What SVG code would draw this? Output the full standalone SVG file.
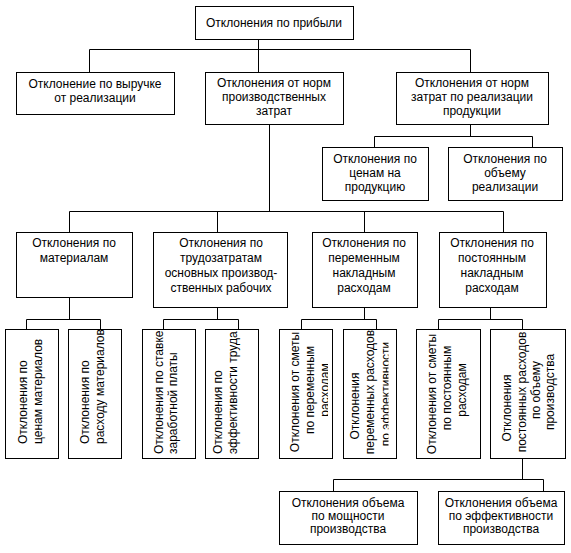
<svg xmlns="http://www.w3.org/2000/svg" width="571" height="553" viewBox="0 0 571 553">
<style>
.b{fill:#fff;stroke:#000;stroke-width:1}
.c{fill:none;stroke:#000;stroke-width:1}
text{font-family:"Liberation Sans",Arial,sans-serif;font-size:12px;fill:#000}
.m{text-anchor:middle}
.s{text-anchor:start}
</style>
<defs>
<clipPath id="clipC1"><rect x="279" y="329" width="49" height="129"/></clipPath>
<clipPath id="clipC2"><rect x="343" y="329" width="45.5" height="129"/></clipPath>
</defs>
<rect width="571" height="553" fill="#fff"/>
<g id="connectors">
<path class="c" d="M258.5 39V72M89.5 72V49.5H470.5V72"/>
<path class="c" d="M470.5 124V136.5M374.5 147V136.5H532.5V147"/>
<path class="c" d="M269.5 124V211.5M69.5 232V211.5H503.5V232M217.5 211.5V232M364.5 211.5V232"/>
<path class="c" d="M69.5 297V319.5M26.5 329V319.5H100.5V329"/>
<path class="c" d="M217.5 307V319.5M163.5 329V319.5H238.5V329"/>
<path class="c" d="M364.5 307V319.5M301.5 329V319.5H376.5V329"/>
<path class="c" d="M490.5 307V319.5M438.5 329V319.5H522.5V329"/>
<path class="c" d="M522.5 458V479.5M333.5 491V479.5H543.5V491"/>
</g>
<g id="n-top"><rect class="b" x="195.5" y="6.5" width="158" height="33"/><text class="m" x="274" y="27">Отклонения по прибыли</text></g>
<g id="n-revenue"><rect class="b" x="16.5" y="72.5" width="158" height="42"/><text class="m" x="95" y="88">Отклонение по выручке</text><text class="m" x="95" y="102">от реализации</text></g>
<g id="n-prodcost"><rect class="b" x="205.5" y="72.5" width="138" height="52"/><text class="m" x="274" y="87">Отклонения от норм</text><text class="m" x="274" y="101">производственных</text><text class="m" x="274" y="115">затрат</text></g>
<g id="n-salescost"><rect class="b" x="396.5" y="72.5" width="152" height="52"/><text class="m" x="472" y="87">Отклонения от норм</text><text class="m" x="472" y="101">затрат по реализации</text><text class="m" x="472" y="115">продукции</text></g>
<g id="n-price"><rect class="b" x="322.5" y="147.5" width="106" height="53"/><text class="m" x="375" y="163">Отклонения по</text><text class="m" x="375" y="177">ценам на</text><text class="m" x="375" y="191">продукцию</text></g>
<g id="n-volume"><rect class="b" x="448.5" y="147.5" width="114" height="53"/><text class="m" x="505" y="163">Отклонения по</text><text class="m" x="505" y="177">объему</text><text class="m" x="505" y="191">реализации</text></g>
<g id="n-materials"><rect class="b" x="16.5" y="232.5" width="116" height="65"/><text class="m" x="74" y="247">Отклонения по</text><text class="m" x="74" y="262">материалам</text></g>
<g id="n-labor"><rect class="b" x="153.5" y="232.5" width="134" height="75"/><text class="m" x="221" y="247">Отклонения по</text><text class="m" x="221" y="262">трудозатратам</text><text class="m" x="221" y="277">основных производ-</text><text class="m" x="221" y="292">ственных рабочих</text></g>
<g id="n-varoh"><rect class="b" x="312.5" y="232.5" width="105" height="75"/><text class="m" x="364" y="247">Отклонения по</text><text class="m" x="364" y="262">переменным</text><text class="m" x="364" y="277">накладным</text><text class="m" x="364" y="292">расходам</text></g>
<g id="n-fixoh"><rect class="b" x="439.5" y="232.5" width="107" height="75"/><text class="m" x="492" y="247">Отклонения по</text><text class="m" x="492" y="262">постоянным</text><text class="m" x="492" y="277">накладным</text><text class="m" x="492" y="292">расходам</text></g>
<g id="n-a1"><rect class="b" x="5.5" y="329.5" width="53" height="129"/><text class="s" transform="translate(27,444) rotate(-90)">Отклонения по</text><text class="s" transform="translate(42,444) rotate(-90)">ценам материалов</text></g>
<g id="n-a2"><rect class="b" x="68.5" y="329.5" width="53" height="129"/><text class="s" transform="translate(89,444) rotate(-90)">Отклонения по</text><text class="s" transform="translate(104,444) rotate(-90)">расходу материалов</text></g>
<g id="n-b1"><rect class="b" x="142.5" y="329.5" width="53" height="129"/><text class="s" transform="translate(163,454) rotate(-90)">Отклонения по ставке</text><text class="s" transform="translate(177,454) rotate(-90)">заработной платы</text></g>
<g id="n-b2"><rect class="b" x="205.5" y="329.5" width="53" height="129"/><text class="s" transform="translate(222,454) rotate(-90)">Отклонения по</text><text class="s" transform="translate(237,454) rotate(-90)">эффективности труда</text></g>
<g id="n-c1"><rect class="b" x="279.5" y="329.5" width="53" height="129"/><g clip-path="url(#clipC1)"><text class="m" transform="translate(299,392) rotate(-90)">Отклонения от сметы</text><text class="m" transform="translate(314,390) rotate(-90)">по переменным</text><text class="m" transform="translate(329,390) rotate(-90)">расходам</text></g></g>
<g id="n-c2"><rect class="b" x="343.5" y="329.5" width="53" height="129"/><g clip-path="url(#clipC2)"><text class="m" transform="translate(359,406) rotate(-90)">Отклонения</text><text class="m" transform="translate(374,392) rotate(-90)">переменных расходов</text><text class="m" transform="translate(389.5,394) rotate(-90)">по эффективности</text></g></g>
<g id="n-d1"><rect class="b" x="416.5" y="329.5" width="64" height="129"/><text class="m" transform="translate(436,394) rotate(-90)">Отклонения  от сметы</text><text class="m" transform="translate(451,388) rotate(-90)">по постоянным</text><text class="m" transform="translate(466,390) rotate(-90)">расходам</text></g>
<g id="n-d2"><rect class="b" x="490.5" y="329.5" width="75" height="129"/><text class="m" transform="translate(511,408) rotate(-90)">Отклонения</text><text class="m" transform="translate(526,392) rotate(-90)">постоянных расходов</text><text class="m" transform="translate(540,390) rotate(-90)">по объему</text><text class="m" transform="translate(554,392) rotate(-90)">производства</text></g>
<g id="n-e1"><rect class="b" x="279.5" y="491.5" width="138" height="53"/><text class="m" x="348" y="507">Отклонения объема</text><text class="m" x="348" y="520">по мощности</text><text class="m" x="348" y="533">производства</text></g>
<g id="n-e2"><rect class="b" x="438.5" y="491.5" width="126" height="53"/><text class="m" x="501" y="507">Отклонения объема</text><text class="m" x="501" y="520">по эффективности</text><text class="m" x="501" y="533">производства</text></g>
</svg>
